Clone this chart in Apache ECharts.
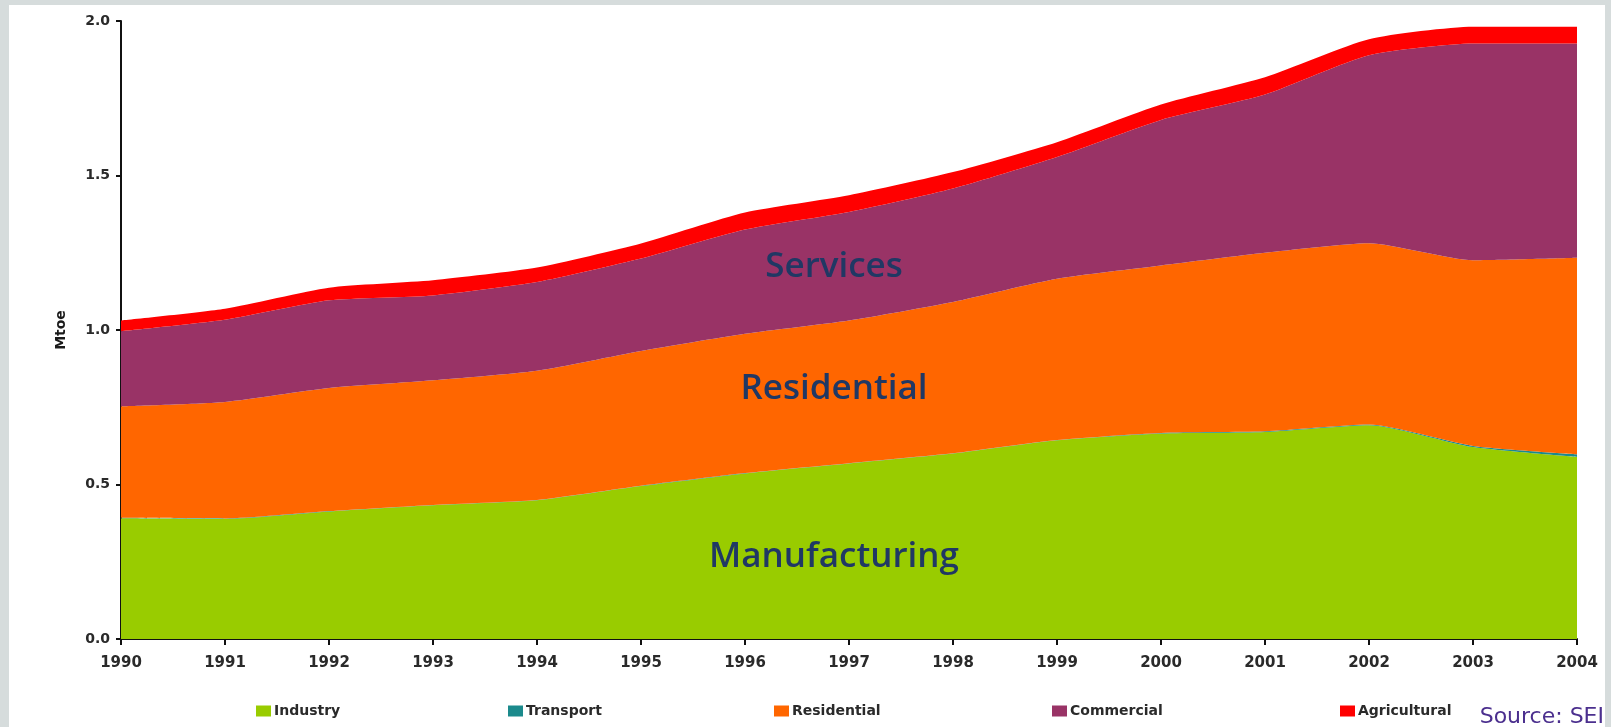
<!DOCTYPE html>
<html>
<head>
<meta charset="utf-8">
<script src="https://cdn.jsdelivr.net/npm/echarts@6/dist/echarts.min.js"></script>
<style>
  html, body { margin: 0; padding: 0; width: 1611px; height: 727px; overflow: hidden; background: #d6dcdc; }
  #panel { position: absolute; left: 9px; top: 5px; width: 1596px; height: 722px; background: #ffffff; }
  #chart { position: absolute; left: 0; top: 0; width: 1611px; height: 727px; }
</style>
</head>
<body>
<div id="panel"></div>
<div id="chart"></div>
<script>
// ---- data (Mtoe) ----
const years = ['1990','1991','1992','1993','1994','1995','1996','1997','1998','1999','2000','2001','2002','2003','2004'];
const industry     = [0.391,0.389,0.413,0.433,0.449,0.495,0.536,0.568,0.600,0.643,0.665,0.670,0.692,0.621,0.589];
const transport    = [0.001,0.001,0.001,0.001,0.001,0.001,0.001,0.001,0.001,0.001,0.002,0.002,0.002,0.004,0.009];
const residential  = [0.361,0.377,0.398,0.403,0.418,0.436,0.451,0.462,0.490,0.522,0.542,0.578,0.587,0.601,0.636];
const commercial   = [0.243,0.266,0.284,0.275,0.287,0.299,0.337,0.351,0.367,0.394,0.471,0.512,0.608,0.701,0.693];
const agricultural = [0.035,0.036,0.041,0.049,0.047,0.049,0.055,0.054,0.053,0.048,0.050,0.056,0.052,0.054,0.054];
const seriesNames  = ['Industry','Transport','Residential','Commercial','Agricultural'];
const yTicks = { min: 0, max: 2, interval: 0.5 };
const annotations = ['Services','Residential','Manufacturing'];
const sourceText = 'Source: SEI';
const yAxisName = 'Mtoe';

const colors = ['#99cc00', '#1b8a8c', '#ff6600', '#993366', '#ff0000'];
const seriesData = [industry, transport, residential, commercial, agricultural];

const chart = echarts.init(document.getElementById('chart'), null, { renderer: 'canvas' });

const legendLefts = [251, 503, 769, 1047, 1335];
const legends = seriesNames.map((n, i) => ({
  data: [n],
  left: legendLefts[i],
  top: 699,
  orient: 'horizontal',
  icon: 'rect',
  itemWidth: 15,
  itemHeight: 11,
  itemGap: 4,
  selectedMode: false,
  textStyle: { fontFamily: 'DejaVu Sans', fontSize: 14, fontWeight: 'bold', color: '#2a2a2a', padding: [0, 0, 0, -2] }
}));

const annoPos = [[834, 267], [834, 389], [834, 557]];
const annoGraphics = annotations.map((t, i) => ({
  type: 'text', x: annoPos[i][0], y: annoPos[i][1], z: 100,
  style: { text: t, fontFamily: 'Open Sans', fontWeight: 600, fontSize: 35, fill: '#203864',
           align: 'center', verticalAlign: 'middle', textAlign: 'center', textVerticalAlign: 'middle' }
}));

const option = {
  backgroundColor: 'transparent',
  animation: false,
  color: colors,
  grid: { left: 121, right: 34, top: 21, bottom: 88, containLabel: false },
  legend: legends,
  xAxis: {
    type: 'category',
    data: years,
    boundaryGap: false,
    axisLine: { lineStyle: { color: '#111', width: 2 } },
    axisTick: { show: true, length: 6, lineStyle: { color: '#111', width: 2 } },
    axisLabel: { fontFamily: 'DejaVu Sans', fontSize: 15, fontWeight: 'bold', color: '#2a2a2a', margin: 17 },
    splitLine: { show: false }
  },
  yAxis: {
    type: 'value',
    min: yTicks.min,
    max: yTicks.max,
    interval: yTicks.interval,
    name: yAxisName,
    nameLocation: 'middle',
    nameRotate: 90,
    nameGap: 53,
    nameTextStyle: { fontFamily: 'DejaVu Sans', fontSize: 14, fontWeight: 'bold', color: '#1a1a1a' },
    axisLine: { show: true, lineStyle: { color: '#111', width: 2 } },
    axisTick: { show: true, length: 5, lineStyle: { color: '#111', width: 2 } },
    axisLabel: { fontFamily: 'DejaVu Sans', fontSize: 14, fontWeight: 'bold', color: '#2a2a2a', margin: 11,
                 formatter: v => v.toFixed(1) },
    splitLine: { show: false }
  },
  series: seriesNames.map((n, i) => ({
    name: n,
    type: 'line',
    stack: 'total',
    data: seriesData[i],
    smooth: 0.2,
    showSymbol: false,
    symbol: 'none',
    lineStyle: { width: 0, color: colors[i] },
    areaStyle: { color: colors[i], opacity: 1 },
    z: 2
  })),
  graphic: annoGraphics.concat([
    { type: 'text', right: 7, top: 706, z: 100,
      style: { text: sourceText, fontFamily: 'DejaVu Sans', fontSize: 22, fill: '#4b2f8e' } }
  ])
};
chart.setOption(option);
</script>
</body>
</html>
